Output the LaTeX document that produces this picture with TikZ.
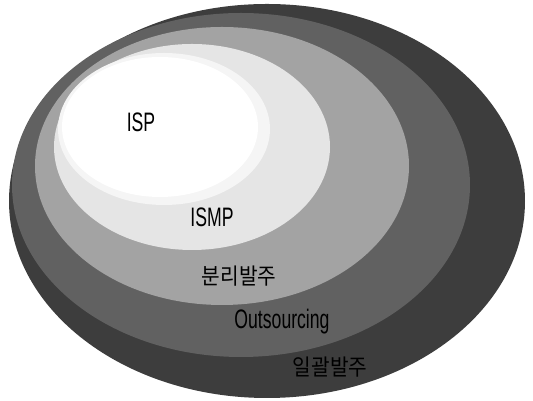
\documentclass[tikz,border=0pt]{standalone}
\usepackage{xcolor}
\usepackage{fontspec}
\usepackage{tikz}
\usetikzlibrary{positioning}

\newfontfamily\latinfont{Liberation Sans}[FakeStretch=0.66]
\newfontfamily\hangulfont{Noto Sans CJK KR}[FakeStretch=0.9]

\begin{document}
\begin{tikzpicture}[
    zone/.style={draw=none},
    tag/.style={font=\latinfont\fontsize{19}{21}\selectfont, inner sep=1pt},
    hangul/.style={font=\hangulfont\fontsize{16}{18}\selectfont, inner sep=1pt}
]
\useasboundingbox (0,0) rectangle (13.325,10.025);
% nested scopes, from the widest one inwards
\fill[zone, black!76] (6.675,5.0) ellipse (6.45 and 4.925);
\fill[zone, black!62] (6.025,5.4) ellipse (5.725 and 4.3);
\fill[zone, black!36] (5.55,5.875) ellipse (4.675 and 3.475);
\fill[zone, black!10] (4.8,6.35) ellipse (3.45 and 2.575);
\fill[zone, black!4] (4.1,6.8) ellipse (2.65 and 1.9);
\fill[zone, white] (4.0,6.85) ellipse (2.45 and 1.75);
% labels
\node[tag] (isp) at (3.525,6.975) {ISP};
\node[tag] (ismp) at (5.3,4.6) {ISMP};
\node[hangul, text=black] (split) at (5.975,3.125) {분리발주};
\node[tag, text=black] (outsrc) at (7.05,1.975) {Outsourcing};
\node[hangul, text=black] (bulk) at (8.25,0.85) {일괄발주};
\end{tikzpicture}
\end{document}
